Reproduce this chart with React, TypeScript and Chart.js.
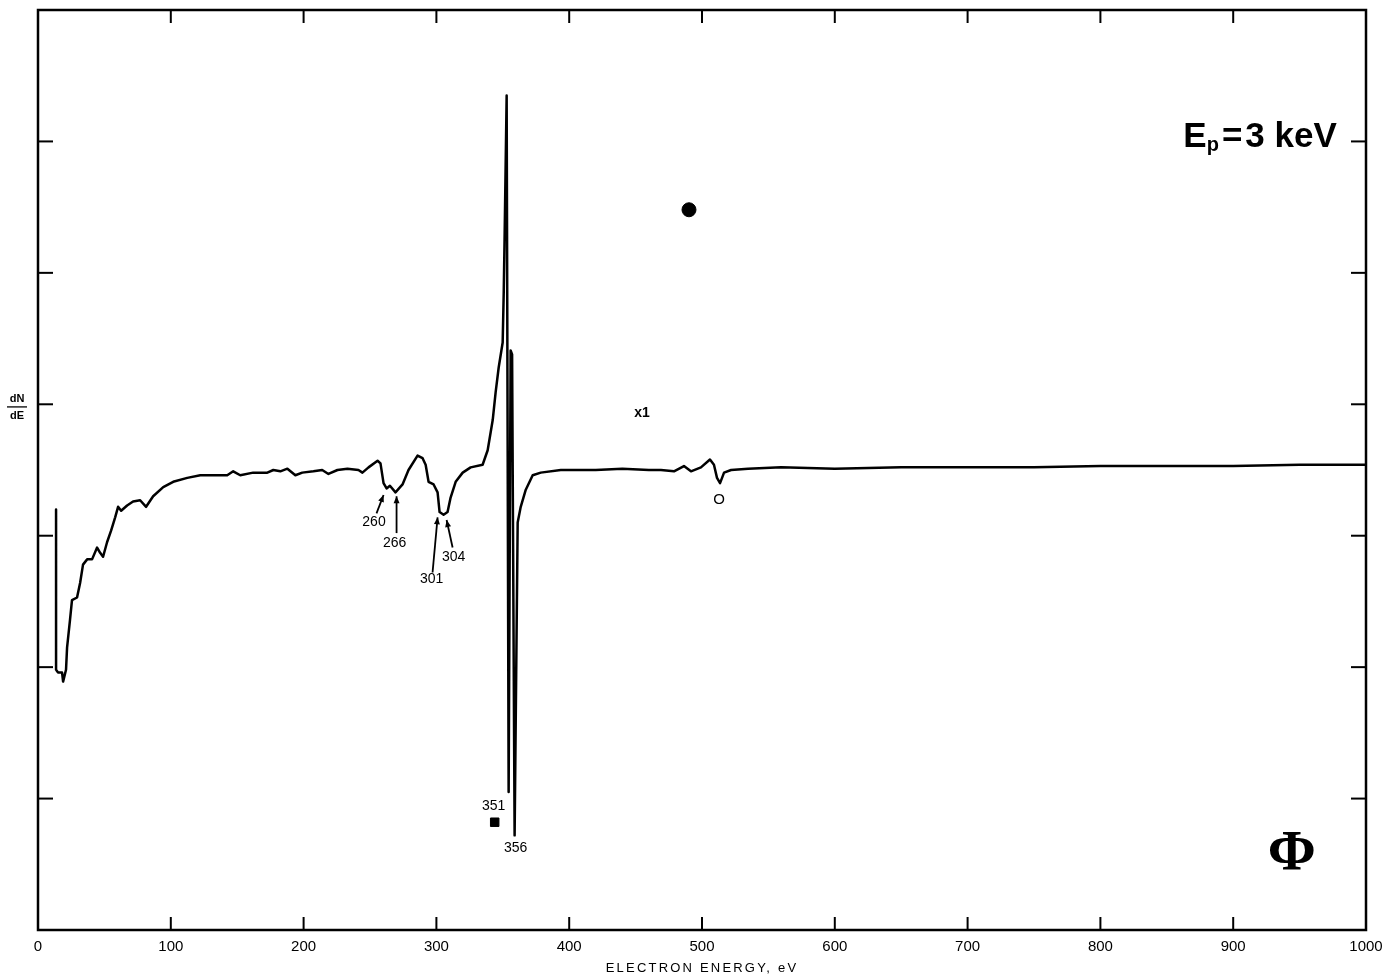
import { useEffect, useRef } from "react";
import { Chart, registerables } from "chart.js";

Chart.register(...registerables);

// Electron energy (eV) and dN/dE signal (arbitrary units, 0..7 frame)
const energy = [
  13.6, 13.6, 15.1, 18.1, 18.9, 21.1, 21.9, 24.1, 25.6, 29.4, 31.7, 33.9, 37.0, 40.7, 44.5, 46.8,
  49.0, 52.0, 55.1, 58.1, 60.3, 62.6, 67.1, 71.6, 76.9, 81.4, 86.7, 94.3, 101.8, 112.4, 122.2,
  135, 142.5, 147, 152.3, 162, 172.7, 177.2, 182.5, 187.8, 193.8, 199, 207.4, 214, 218.7, 225.5,
  233, 241.3, 244.3, 248.9, 255.7, 257.9, 260.2, 262.5, 265, 269.2, 274.5, 279, 285.8, 289.6,
  291.9, 294.1, 297.9, 300.9, 302.4, 305.4, 308.4, 310.7, 314.5, 319.8, 325.8, 334.8, 338.6,
  342.4, 344.6, 346.9, 349.9, 350.7, 351.4, 352.9, 354.4, 355.9, 357.0, 358.9, 361.2, 363.5,
  367.3, 372.5, 378.6, 393.7, 420, 440, 460, 469.1, 478.9, 486.4, 491.7, 499.2, 506, 509, 511.3,
  513.6, 516.6, 521.9, 534.7, 559.6, 600, 650, 700, 750, 800, 850, 900, 950, 1000,
];
const signal = [
  3.2, 1.98, 1.96, 1.96, 1.89, 1.98, 2.15, 2.36, 2.51, 2.53, 2.64, 2.78, 2.82, 2.82, 2.91, 2.87,
  2.84, 2.95, 3.04, 3.14, 3.22, 3.19, 3.23, 3.26, 3.27, 3.22, 3.3, 3.37, 3.41, 3.44, 3.46,
  3.46, 3.46, 3.49, 3.46, 3.48, 3.48, 3.5, 3.49, 3.51, 3.46, 3.48, 3.49, 3.5, 3.47, 3.5,
  3.51, 3.5, 3.48, 3.52, 3.57, 3.55, 3.4, 3.36, 3.38, 3.33, 3.39, 3.5, 3.61, 3.59,
  3.54, 3.41, 3.39, 3.33, 3.18, 3.16, 3.18, 3.29, 3.41, 3.48, 3.52, 3.54, 3.65,
  3.88, 4.09, 4.28, 4.47, 4.85, 5.3, 6.35, 1.05, 4.41, 4.38, 0.72, 3.1, 3.22,
  3.35, 3.46, 3.48, 3.5, 3.5, 3.51, 3.5, 3.5, 3.49, 3.53, 3.49, 3.52, 3.58, 3.54, 3.44,
  3.4, 3.48, 3.5, 3.51, 3.52, 3.51, 3.52, 3.52, 3.52, 3.53, 3.53, 3.53, 3.54, 3.54,
];

// scan blemishes on the original figure (dot and square)
const blemishE = [490.2, 343.9];
const blemishY = [5.48, 0.82];

const xTickValues = [0, 100, 200, 300, 400, 500, 600, 700, 800, 900, 1000];
const yTickValues = [1, 2, 3, 4, 5, 6];

// peak annotations: label, label position, arrow tail, arrow head (data units)
const peakNames = ["260", "266", "301", "304"];
const peakLabelE = [253.0, 268.5, 296.4, 313.0];
const peakLabelY = [3.1, 2.94, 2.67, 2.84];
const arrowFromE = [254.9, 270.0, 297.1, 312.2];
const arrowFromY = [3.17, 3.02, 2.72, 2.91];
const arrowToE = [260.2, 270.0, 300.9, 307.7];
const arrowToY = [3.31, 3.3, 3.14, 3.12];

const plainNames = ["351", "356"];
const plainE = [343.1, 359.7];
const plainY = [0.94, 0.62];

const decor = {
  id: "decor",
  afterDraw(chart: any) {
    const { ctx, chartArea: a, scales } = chart;
    const x = scales.x;
    const y = scales.y;
    const line = (x1: number, y1: number, x2: number, y2: number) => {
      ctx.beginPath();
      ctx.moveTo(x1, y1);
      ctx.lineTo(x2, y2);
      ctx.stroke();
    };
    ctx.save();
    ctx.strokeStyle = "#000";
    ctx.fillStyle = "#000";
    ctx.lineWidth = 2.5;
    ctx.strokeRect(a.left, a.top, a.right - a.left, a.bottom - a.top);
    ctx.lineWidth = 2;
    for (const t of xTickValues.slice(1, -1)) {
      const px = x.getPixelForValue(t);
      line(px, a.top, px, a.top + 13);
      line(px, a.bottom, px, a.bottom - 13);
    }
    for (const t of yTickValues) {
      const py = y.getPixelForValue(t);
      line(a.left, py, a.left + 15, py);
      line(a.right, py, a.right - 15, py);
    }

    // arrows
    ctx.lineWidth = 1.8;
    for (let i = 0; i < peakNames.length; i++) {
      const x1 = x.getPixelForValue(arrowFromE[i]);
      const y1 = y.getPixelForValue(arrowFromY[i]);
      const x2 = x.getPixelForValue(arrowToE[i]);
      const y2 = y.getPixelForValue(arrowToY[i]);
      line(x1, y1, x2, y2);
      const ang = Math.atan2(y2 - y1, x2 - x1);
      const L = 7, W = 3;
      ctx.beginPath();
      ctx.moveTo(x2, y2);
      ctx.lineTo(x2 - L * Math.cos(ang) + W * Math.sin(ang), y2 - L * Math.sin(ang) - W * Math.cos(ang));
      ctx.lineTo(x2 - L * Math.cos(ang) - W * Math.sin(ang), y2 - L * Math.sin(ang) + W * Math.cos(ang));
      ctx.closePath();
      ctx.fill();
    }

    ctx.textAlign = "center";
    ctx.textBaseline = "middle";
    ctx.font = "14px 'Liberation Sans', Arial, sans-serif";
    for (let i = 0; i < peakNames.length; i++) {
      ctx.fillText(peakNames[i], x.getPixelForValue(peakLabelE[i]), y.getPixelForValue(peakLabelY[i]));
    }
    for (let i = 0; i < plainNames.length; i++) {
      ctx.fillText(plainNames[i], x.getPixelForValue(plainE[i]), y.getPixelForValue(plainY[i]));
    }
    ctx.font = "15px 'Liberation Sans', Arial, sans-serif";
    ctx.fillText("O", x.getPixelForValue(512.8), y.getPixelForValue(3.27));
    ctx.font = "bold 14px 'Liberation Sans', Arial, sans-serif";
    ctx.fillText("x1", x.getPixelForValue(454.8), y.getPixelForValue(3.93));

    // E_p = 3 keV
    {
      const big = "bold 35px 'Liberation Sans', Arial, sans-serif";
      const sub = "bold 20px 'Liberation Sans', Arial, sans-serif";
      ctx.textAlign = "left";
      ctx.textBaseline = "alphabetic";
      ctx.font = big;
      const wE = ctx.measureText("E").width;
      const wEq = ctx.measureText("=").width;
      const w3 = ctx.measureText("3 keV").width;
      ctx.font = sub;
      const wp = ctx.measureText("p").width;
      const gap = 3;
      const right = x.getPixelForValue(978);
      const base = y.getPixelForValue(5.96);
      let cx = right - (wE + wp + gap + wEq + gap + w3);
      ctx.font = big;
      ctx.fillText("E", cx, base);
      cx += wE;
      ctx.font = sub;
      ctx.fillText("p", cx, base + 4);
      cx += wp + gap;
      ctx.font = big;
      ctx.fillText("=", cx, base);
      cx += wEq + gap;
      ctx.fillText("3 keV", cx, base);
    }

    // Phi
    ctx.textAlign = "center";
    ctx.textBaseline = "middle";
    ctx.font = "bold 58px 'Liberation Serif', 'DejaVu Serif', serif";
    ctx.fillText("\u03A6", x.getPixelForValue(944.2), y.getPixelForValue(0.57));

    // dN/dE y label
    {
      const cx = a.left - 21;
      const cy = y.getPixelForValue(3.98);
      ctx.font = "bold 11px 'Liberation Sans', Arial, sans-serif";
      ctx.fillText("dN", cx, cy - 8);
      ctx.fillText("dE", cx, cy + 9);
      ctx.lineWidth = 1.3;
      line(cx - 10, cy, cx + 10, cy);
    }

    // x axis title
    ctx.font = "13px 'Liberation Sans', Arial, sans-serif";
    (ctx as any).letterSpacing = "2.2px";
    ctx.fillText("ELECTRON ENERGY, eV", x.getPixelForValue(500), a.bottom + 38);
    (ctx as any).letterSpacing = "0px";
    ctx.restore();
  },
};

export default function App() {
  const ref = useRef<HTMLCanvasElement | null>(null);
  useEffect(() => {
    if (!ref.current) return;
    const chart = new Chart(ref.current, {
      type: "scatter",
      data: {
        datasets: [
          {
            label: "dN/dE",
            data: energy.map((e, i) => ({ x: e, y: signal[i] })),
            showLine: true,
            borderColor: "#000",
            borderWidth: 2.5,
            pointRadius: 0,
            tension: 0,
            borderJoinStyle: "round",
            borderCapStyle: "round",
          } as any,
          {
            label: "blemish",
            data: blemishE.map((e, i) => ({ x: e, y: blemishY[i] })),
            showLine: false,
            pointStyle: ["circle", "rect"],
            pointRadius: [7, 6],
            backgroundColor: "#000",
            borderColor: "#000",
          } as any,
        ],
      },
      options: {
        responsive: false,
        animation: false,
        events: [],
        layout: { padding: { left: 38, right: 28, top: 10, bottom: 12 } },
        plugins: { legend: { display: false }, tooltip: { enabled: false }, title: { display: false } },
        scales: {
          x: {
            type: "linear",
            min: 0,
            max: 1000,
            afterBuildTicks: (s: any) => {
              s.ticks = xTickValues.map((v) => ({ value: v }));
            },
            grid: { display: false, drawTicks: false },
            border: { display: false },
            ticks: {
              padding: 8,
              color: "#000",
              font: { size: 15, family: "'Liberation Sans', Arial, sans-serif" },
              callback: (v: any) => String(v),
            },
          },
          y: {
            type: "linear",
            min: 0,
            max: 7,
            display: false,
          },
        },
      },
      plugins: [decor],
    });
    return () => chart.destroy();
  }, []);
  return (
    <div style={{ position: "absolute", left: 0, top: 0, width: 1394, height: 976, background: "#fff" }}>
      <canvas ref={ref} width={1394} height={976} style={{ display: "block" }} />
    </div>
  );
}
